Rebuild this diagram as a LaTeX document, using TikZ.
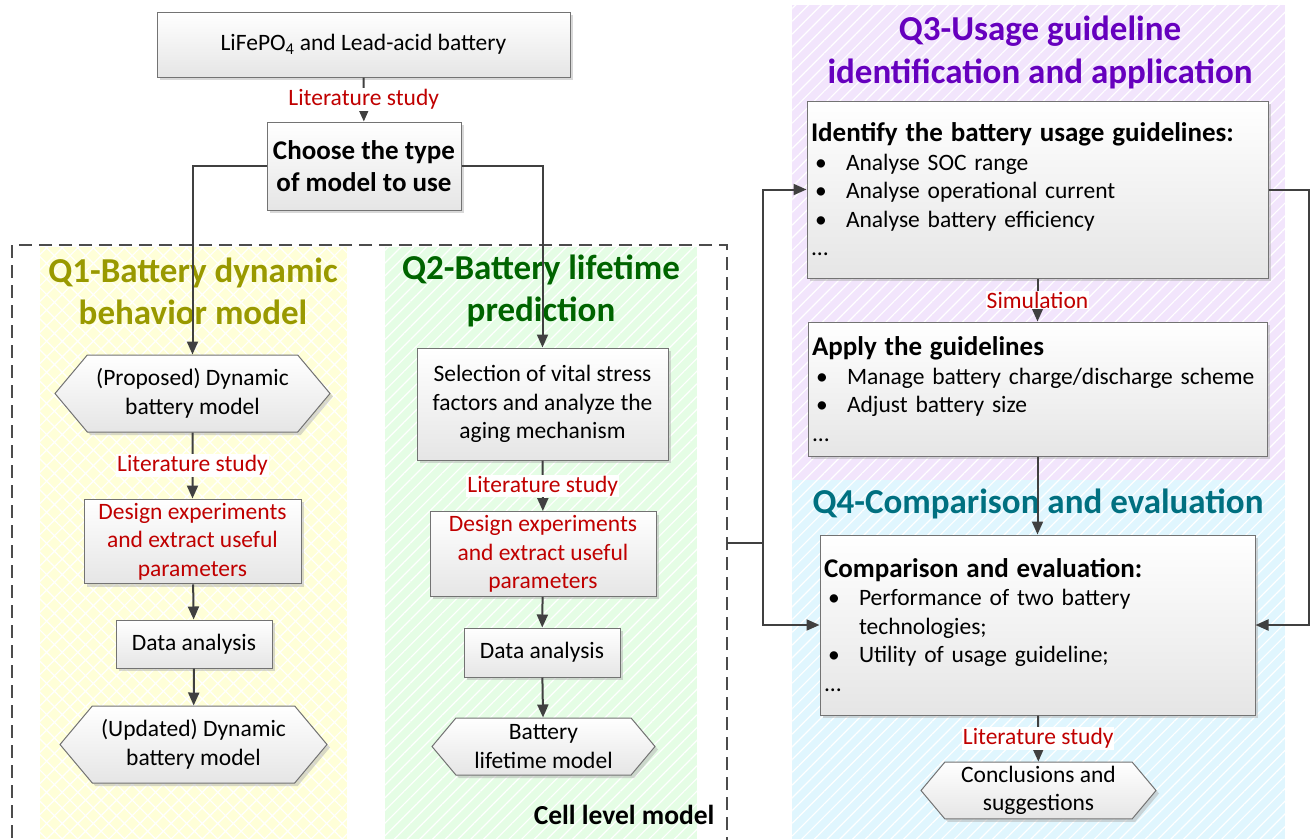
\documentclass[tikz,border=0pt]{standalone}
\usepackage{fontspec}
\setmainfont{Carlito}
\usetikzlibrary{shapes.symbols,shadows,patterns.meta,arrows.meta}

\definecolor{litred}{RGB}{192,0,0}
\definecolor{qone}{RGB}{153,153,0}
\definecolor{qtwo}{RGB}{0,100,0}
\definecolor{qthree}{RGB}{102,0,190}
\definecolor{qfour}{RGB}{0,112,128}
\definecolor{bgone}{RGB}{255,255,216}
\definecolor{bgtwo}{RGB}{229,253,229}
\definecolor{bgthree}{RGB}{242,229,252}
\definecolor{bgfour}{RGB}{224,246,254}

\tikzset{
  box/.style={draw=black!55, line width=1pt, top color=white, bottom color=black!10,
    drop shadow={shadow xshift=3pt, shadow yshift=-3pt, fill=black!30, opacity=.5},
    font=\fontsize{23.5}{28.5}\selectfont, align=center, inner sep=4pt},
  hexa/.style={box, signal, signal to=west and east, signal pointer angle=100},
  lbl/.style={fill=white, text=litred, font=\fontsize{23.5}{28.5}\selectfont, inner sep=1pt},
  link/.style={draw=black!75, line width=2pt, -{Triangle[length=13pt,width=11pt]}},
  wire/.style={draw=black!75, line width=2pt},
  qtitle/.style={font=\bfseries\fontsize{35}{42}\selectfont, align=center},
  zone/.style={draw=none, fill=#1, postaction={pattern={Lines[angle=45,distance=9pt,line width=1.2pt]}, pattern color=white}},
}
\newcommand{\blt}{\makebox[35pt][l]{\hspace{4pt}\textbullet}}
\newcommand{\hd}[1]{{\bfseries\fontsize{27}{29}\selectfont #1}}

\begin{document}
\begin{tikzpicture}[x=1pt,y=-1pt]
  \clip (0,0) rectangle (1312,839);
  \fill[white] (0,0) rectangle (1312,839);

  % coloured zones
  \fill[bgone] (40,247) rectangle (347,839);
  \fill[pattern={Hatch[angle=45,distance=11pt,line width=1.2pt]}, pattern color=white] (40,247) rectangle (347,839);
  \path[zone=bgtwo] (385,247) rectangle (697,839);
  \path[zone=bgthree] (792,5) rectangle (1285,480);
  \path[zone=bgfour] (792,480) rectangle (1285,839);

  % cell level frame
  \draw[black!70, line width=1.8pt, dash pattern=on 13pt off 7pt] (12,245) rectangle (727,850);
  \coordinate (cellR) at (727,543);
  \coordinate (split) at (763,543);
  \node[font=\bfseries\fontsize{27.5}{30}\selectfont, anchor=east] (cell) at (718,815) {Cell level model};

  % titles
  \node[qtitle, text=qone] (t1) at (193,291) {Q1-Battery dynamic\\behavior model};
  \node[qtitle, text=qtwo] (t2) at (541,291) {Q2-Battery lifetime\\prediction};
  \node[qtitle, text=qthree, font=\bfseries\fontsize{35}{43}\selectfont] (t3) at (1040,52) {Q3-Usage guideline\\identification and application};
  \node[qtitle, text=qfour] (t4) at (1038,504) {Q4-Comparison and evaluation};

  % top of the flow
  \node[box, minimum width=413pt, minimum height=65pt] (bat) at (363.5,44.5) {LiFePO\textsubscript{4} and Lead-acid battery};
  \node[box, minimum width=194pt, minimum height=88pt, font=\bfseries\fontsize{27}{32}\selectfont] (choose) at (364,166) {Choose the type\\of model to use};

  % Q1
  \node[hexa, minimum width=275pt, minimum height=77pt] (hexP) at (192.5,393.5) {(Proposed) Dynamic\\battery model};
  \node[box, minimum width=217pt, minimum height=83pt, text=litred] (exp1) at (192.5,541.5) {Design experiments\\and extract useful\\parameters};
  \node[box, minimum width=156pt, minimum height=48pt] (data1) at (194,644) {Data analysis};
  \node[hexa, minimum width=267pt, minimum height=77pt] (hexU) at (193.5,744.5) {(Updated) Dynamic\\battery model};

  % Q2
  \node[box, minimum width=251pt, minimum height=112pt] (sel) at (542.5,404) {Selection of vital stress\\factors and analyze the\\aging mechanism};
  \node[box, minimum width=226pt, minimum height=84pt, text=litred] (exp2) at (543,554) {Design experiments\\and extract useful\\parameters};
  \node[box, minimum width=156pt, minimum height=49pt] (data2) at (542,652.5) {Data analysis};
  \node[hexa, minimum width=223pt, minimum height=57pt] (hexL) at (543.5,746.5) {Battery\\lifetime model};

  % Q3
  \node[box, align=left, text width=453pt, minimum height=177pt] (ident) at (1037.5,189.5)
    {\hd{Identify the battery usage guidelines:}\\
     \blt Analyse SOC range\\
     \blt Analyse operational current\\
     \blt Analyse battery efficiency\\
     ...};
  \node[box, align=left, text width=451pt, minimum height=134pt] (apply) at (1037.5,389)
    {\hd{Apply the guidelines}\\
     \blt Manage battery charge/discharge scheme\\
     \blt Adjust battery size\\
     ...};

  % Q4
  \node[box, align=left, text width=427pt, minimum height=180pt] (cmp) at (1037.5,625)
    {\hd{Comparison and evaluation:}\\
     \blt Performance of two battery\\
     \hspace*{35pt}technologies;\\
     \blt Utility of usage guideline;\\
     ...};
  \node[hexa, minimum width=235pt, minimum height=55pt] (concl) at (1038.5,790.5) {Conclusions and\\suggestions};

  % connectors
  \draw[link] (bat) -- node[lbl] {Literature study} (choose);
  \draw[link] (choose.west) -| (hexP.north);
  \draw[link] (choose.east) -| (sel.north);

  \draw[link] (hexP) -- node[lbl] {Literature study} (exp1);
  \draw[link] (exp1) -- (data1);
  \draw[link] (data1) -- (hexU);

  \draw[link] (sel) -- node[lbl] {Literature study} (exp2);
  \draw[link] (exp2) -- (data2);
  \draw[link] (data2) -- (hexL);

  \draw[wire] (cellR) -- (split);
  \draw[link] (split) |- (ident.west);
  \draw[link] (split) |- (cmp.west);
  \draw[link] (ident.east) -- ++(40,0) |- (cmp.east);

  \draw[link] (ident) -- node[lbl] {Simulation} (apply);
  \draw[link] (apply) -- (cmp);
  \draw[link] (cmp) -- node[lbl] {Literature study} (concl);
\end{tikzpicture}
\end{document}
